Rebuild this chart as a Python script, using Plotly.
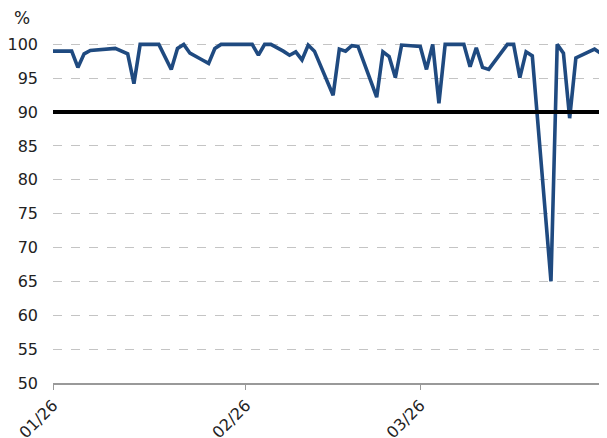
import plotly.graph_objects as go

dates = [
    "2026-01-01", "2026-01-04", "2026-01-05", "2026-01-06", "2026-01-07", "2026-01-09",
    "2026-01-11", "2026-01-13", "2026-01-14", "2026-01-15", "2026-01-18", "2026-01-20",
    "2026-01-21", "2026-01-22", "2026-01-23", "2026-01-25", "2026-01-26", "2026-01-27",
    "2026-01-28", "2026-02-02", "2026-02-03", "2026-02-04", "2026-02-05", "2026-02-07",
    "2026-02-08", "2026-02-09", "2026-02-10", "2026-02-11", "2026-02-12", "2026-02-15",
    "2026-02-16", "2026-02-17", "2026-02-18", "2026-02-19", "2026-02-22", "2026-02-23",
    "2026-02-24", "2026-02-25", "2026-02-26", "2026-03-01", "2026-03-02", "2026-03-03",
    "2026-03-04", "2026-03-05", "2026-03-08", "2026-03-09", "2026-03-10", "2026-03-11",
    "2026-03-12", "2026-03-15", "2026-03-16", "2026-03-17", "2026-03-18", "2026-03-19",
    "2026-03-22", "2026-03-23", "2026-03-24", "2026-03-25", "2026-03-26", "2026-03-29",
    "2026-03-30",
]
values = [
    99.0, 99.0, 96.6, 98.6, 99.1, 99.3,
    99.4, 98.6, 94.2, 100.0, 100.0, 96.3,
    99.4, 100.0, 98.7, 97.7, 97.2, 99.4,
    100.0, 100.0, 98.4, 100.0, 100.0, 99.0,
    98.4, 98.9, 97.7, 99.9, 99.0, 92.5,
    99.3, 99.0, 99.8, 99.7, 92.2, 98.9,
    98.2, 95.1, 99.9, 99.7, 96.3, 100.0,
    91.3, 100.0, 100.0, 96.7, 99.5, 96.6,
    96.3, 100.0, 100.0, 95.1, 98.9, 98.3,
    65.0, 100.0, 98.7, 89.1, 98.0, 99.3,
    98.7,
]
target = 90
y_ticks = [50, 55, 60, 65, 70, 75, 80, 85, 90, 95, 100]
x_start = "2026-01-01"
x_end = "2026-03-31"

FONT = "DejaVu Sans"
# the page places the figure 8px from the top-left corner of the window
W, H = 599, 430
ML, MR, MT, MB = 45, 0, 33, 55

fig = go.Figure()
fig.add_trace(go.Scatter(
    x=dates, y=values, mode="lines",
    line=dict(color="#1f4a80", width=3.6),
    hoverinfo="skip", showlegend=False,
))

fig.add_shape(type="line", xref="paper", yref="y", x0=0, x1=1, y0=target, y1=target,
              line=dict(color="black", width=4), layer="above")

fig.update_layout(
    width=W, height=H,
    margin=dict(l=ML, r=MR, t=MT, b=MB, autoexpand=False),
    paper_bgcolor="white", plot_bgcolor="white",
    font=dict(family=FONT, size=16, color="#222222"),
    showlegend=False,
    xaxis=dict(
        type="date", range=[x_start, x_end], automargin=False,
        tick0=x_start, dtick="M1", tickformat="%m/%y",
        tickangle=-45, ticks="outside", ticklen=5, tickcolor="#999999",
        showline=True, linecolor="#999999", linewidth=1.5,
        showgrid=False, zeroline=False,
        tickfont=dict(family=FONT, size=16, color="#222222"),
    ),
    yaxis=dict(
        range=[50, 100.5], tickvals=y_ticks, automargin=False,
        showgrid=True, gridcolor="#c4c4c4", griddash="dash", gridwidth=1,
        zeroline=False, showline=False, ticks="",
        ticklabelstandoff=14,
        tickfont=dict(family=FONT, size=16, color="#222222"),
    ),
    annotations=[dict(
        text="%", xref="paper", yref="paper",
        x=(4 - ML) / (W - ML - MR), y=1 + (MT - 10) / (H - MT - MB),
        xanchor="left", yanchor="middle", showarrow=False,
        font=dict(family=FONT, size=17, color="#222222"),
    )],
)

fig.write_html("out.html")
